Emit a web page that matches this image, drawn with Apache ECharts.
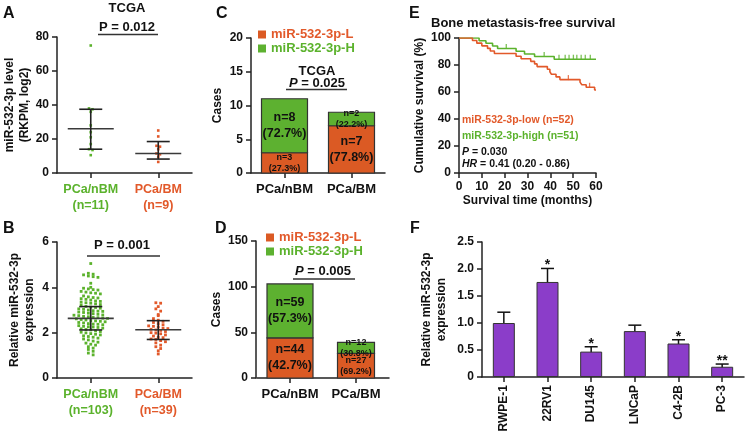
<!DOCTYPE html>
<html><head><meta charset="utf-8">
<script src="https://cdn.jsdelivr.net/npm/echarts@6/dist/echarts.min.js"></script>
<style>html,body{margin:0;padding:0;background:#fff}#c{width:748px;height:439px}</style>
</head><body><div id="c"></div>
<script>
// ---------- DATA ----------
const aTickLabels = ['PCa/nBM\n(n=11)', 'PCa/BM\n(n=9)'];
const aNbm = [75, 38, 37.5, 36, 28, 24, 21, 17, 14, 13.5, 10.5];
const aBm = [25, 21.5, 16, 15.5, 14, 11.5, 11, 9.5, 6.5];
const aMid = [26, 11.5];
const aLow = [14, 8.2];
const aHigh = [37.5, 18.5];

const bTickLabels = ['PCa/nBM\n(n=103)', 'PCa/BM\n(n=39)'];
const bNbm = [
  5.05,
  4.62, 4.58, 4.55, 4.50, 4.47, 4.44,
  4.18,
  4.00, 3.96, 3.93, 3.90, 3.88,
  3.82, 3.79, 3.76, 3.74, 3.71,
  3.62, 3.58, 3.55, 3.53, 3.50, 3.47, 3.44, 3.40,
  3.38, 3.35, 3.32, 3.30, 3.27, 3.24, 3.22,
  3.16, 3.13, 3.11, 3.08, 3.05, 3.03, 3.00,
  2.97, 2.95, 2.94, 2.91, 2.89, 2.86, 2.84, 2.81, 2.78,
  2.77, 2.75, 2.72, 2.70, 2.68, 2.66, 2.64, 2.63, 2.61, 2.58, 2.56,
  2.53, 2.52, 2.50, 2.48, 2.45, 2.43, 2.40, 2.38, 2.37, 2.35,
  2.31, 2.28, 2.26, 2.25, 2.23, 2.20, 2.17, 2.14, 2.12,
  2.08, 2.05, 2.02, 1.99, 1.96, 1.93, 1.90,
  1.86, 1.83, 1.80, 1.76, 1.72, 1.68,
  1.63, 1.58, 1.54, 1.49, 1.45,
  1.38, 1.32, 1.26, 1.18, 1.10, 1.02
];
const bBm = [3.32, 3.30, 3.15, 3.05, 2.95, 2.80, 2.75, 2.62, 2.55, 2.50, 2.45, 2.40, 2.35,
  2.30, 2.28, 2.25, 2.20, 2.18, 2.15, 2.12, 2.10, 2.05, 2.00, 1.98, 1.95, 1.90, 1.85,
  1.80, 1.78, 1.72, 1.70, 1.65, 1.60, 1.55, 1.45, 1.38, 1.30, 1.20, 1.06];
const bMid = [2.63, 2.13];
const bLow = [2.12, 1.70];
const bHigh = [3.15, 2.53];

const cdCats = ['PCa/nBM', 'PCa/BM'];
const cLow = [3, 7];
const cHigh = [8, 2];
const dLow = [44, 27];
const dHigh = [59, 12];

const eHighT = [0, 8.8, 11.8, 14.7, 16.9, 25.0, 28.7, 33.1, 41.7, 60];
const eHighS = [100, 98.0, 96.1, 94.1, 92.2, 90.2, 88.2, 86.3, 84.3, 84.3];
const eHighCensor = [20.7, 37.3, 43.8, 46.5, 48.2, 50.1, 51.6, 53.5, 55.3, 57.5];
const eLowT = [0, 5.9, 7.8, 10.0, 12.5, 13.7, 15.5, 25.0, 27.2, 31.4, 33.1, 34.2, 38.7, 39.8, 40.5, 42.5, 44.2, 53.0, 53.8, 55.7, 59.4, 60];
const eLowS = [100, 98.1, 96.2, 94.2, 92.3, 90.4, 88.5, 86.5, 84.6, 82.7, 80.8, 78.8, 76.9, 75.0, 73.1, 71.2, 69.2, 67.3, 65.4, 63.5, 61.5, 61.5];
const eLowCensor = [47.9, 57.2];

const fCats = ['RWPE-1', '22RV1', 'DU145', 'LNCaP', 'C4-2B', 'PC-3'];
const fMean = [1.0, 1.76, 0.47, 0.85, 0.62, 0.19];
const fErr = [0.2, 0.25, 0.09, 0.11, 0.07, 0.05];
const fStars = ['', '*', '*', '', '*', '**'];

// ---------- STYLE ----------
const FONT = '"Liberation Sans", Arial, Helvetica, sans-serif';
const INK = '#111';
const GREEN = '#5BB22C';
const ORANGE = '#E2592A';
const BAR_GREEN = '#5DB130';
const BAR_ORANGE = '#DB5A24';
const PURPLE = '#8B3DC9';
const AX = '#222';

function swarm(vals, cat, bin) {
  const rows = {};
  vals.forEach(v => { const k = Math.round(v / bin); (rows[k] = rows[k] || []).push(v); });
  const out = [];
  Object.keys(rows).forEach(k => {
    const r = rows[k];
    r.forEach((v, i) => out.push([cat, v, i - (r.length - 1) / 2]));
  });
  return out;
}
function dots(spacing, size) {
  return function (params, api) {
    const p = api.coord([api.value(0), api.value(1)]);
    const cx = p[0] + api.value(2) * spacing;
    return { type: 'rect', shape: { x: cx - size / 2, y: p[1] - size / 2, width: size, height: size },
      style: { fill: api.visual('color') } };
  };
}
function L(x1, y1, x2, y2, st) { return { type: 'line', shape: { x1, y1, x2, y2 }, style: st }; }
function meanBars(halfMean, halfCap) {
  return function (params, api) {
    const c = api.value(0);
    const m = api.coord([c, api.value(1)]);
    const lo = api.coord([c, api.value(2)]);
    const hi = api.coord([c, api.value(3)]);
    const st = { stroke: '#222', lineWidth: 1.6 };
    const sm = { stroke: '#3a3a3a', lineWidth: 1.6 };
    return { type: 'group', children: [
      L(m[0] - halfMean, m[1], m[0] + halfMean, m[1], sm),
      L(lo[0], lo[1], hi[0], hi[1], st),
      L(lo[0] - halfCap, lo[1], lo[0] + halfCap, lo[1], st),
      L(hi[0] - halfCap, hi[1], hi[0] + halfCap, hi[1], st)
    ] };
  };
}
function stackRender(widths) {
  return function (params, api) {
    const c = api.value(0), base = api.value(1), v = api.value(2), tot = api.value(3);
    const p0 = api.coord([c, base]);
    const p1 = api.coord([c, base + v]);
    const w = widths[c];
    const h = p0[1] - p1[1];
    const big = h > 30;
    return { type: 'group', children: [
      { type: 'rect', shape: { x: p0[0] - w / 2, y: p1[1], width: w, height: h },
        style: { fill: api.visual('color'), stroke: '#333', lineWidth: 1.2 } },
      { type: 'text', x: p0[0], y: p1[1] + h / 2, z2: 10,
        style: { text: 'n=' + v + '\n(' + (v / tot * 100).toFixed(1) + '%)', align: 'center', verticalAlign: 'middle',
          fontFamily: FONT, fontWeight: 'bold', fontSize: big ? 12.5 : 9, lineHeight: big ? 16 : 11, fill: '#111' } }
    ] };
  };
}
function fErrRender(params, api) {
  const c = api.value(0), m = api.value(1), e = api.value(2);
  const lo = api.coord([c, m - e]);
  const hi = api.coord([c, m + e]);
  const st = { stroke: '#111', lineWidth: 1.5 };
  const ch = [
    L(lo[0], lo[1], hi[0], hi[1], st),
    L(lo[0] - 6.5, lo[1], lo[0] + 6.5, lo[1], st),
    L(hi[0] - 6.5, hi[1], hi[0] + 6.5, hi[1], st)
  ];
  const s = fStars[params.dataIndex];
  if (s) ch.push({ type: 'text', x: hi[0], y: hi[1] - 3, style: { text: s, align: 'center', verticalAlign: 'middle',
    fontFamily: FONT, fontWeight: 'bold', fontSize: 14, fill: INK } });
  return { type: 'group', children: ch };
}
function survAt(ts, ss, t) { let s = ss[0]; for (let i = 0; i < ts.length; i++) if (ts[i] <= t) s = ss[i]; return s; }

const lblStyle = { fontFamily: FONT, fontWeight: 'bold', fontSize: 12, color: INK };
function yAx(grid, min, max, interval, name, gap, fmt, offset) {
  return { type: 'value', gridIndex: grid, min, max, interval, offset: offset || 0,
    name, nameLocation: 'middle', nameGap: gap, nameRotate: 90,
    nameTextStyle: { fontFamily: FONT, fontWeight: 'bold', fontSize: 12, color: INK, lineHeight: 15 },
    axisLine: { show: true, lineStyle: { color: AX, width: 1.5 } },
    axisTick: { show: true, length: 5, lineStyle: { color: AX, width: 1.5 } },
    axisLabel: Object.assign({ margin: 8, formatter: fmt }, lblStyle),
    splitLine: { show: false } };
}
function xCat(grid, data, colors, extra) {
  return Object.assign({ type: 'category', gridIndex: grid, data,
    axisLine: { show: true, lineStyle: { color: AX, width: 1.5 } },
    axisTick: { show: true, alignWithLabel: true, length: 5, lineStyle: { color: AX, width: 1.5 } },
    axisLabel: Object.assign({}, lblStyle, { interval: 0, margin: 9, lineHeight: 16, fontSize: 12.5,
      color: colors ? function (v, i) { return colors[i]; } : INK }),
    splitLine: { show: false } }, extra || {});
}
function txt(x, y, text, opts) {
  return { type: 'text', x, y, z: 100, style: Object.assign({ text, fill: INK, fontFamily: FONT, fontWeight: 'bold',
    fontSize: 13, align: 'left', verticalAlign: 'middle' }, opts || {}) };
}
function gline(x1, y1, x2, y2) { return { type: 'line', z: 100, shape: { x1, y1, x2, y2 }, style: { stroke: '#333', lineWidth: 1.5 } }; }
function ital(size) { return { i: { fontStyle: 'italic', fontWeight: 'bold', fontSize: size, fontFamily: FONT, fill: INK } }; }

const gridBase = { containLabel: false, outerBoundsMode: 'none' };
const option = {
  animation: false,
  backgroundColor: '#fff',
  textStyle: { fontFamily: FONT },
  grid: [
    Object.assign({ left: 57, top: 37, width: 135, height: 136 }, gridBase),
    Object.assign({ left: 57, top: 242, width: 135, height: 136 }, gridBase),
    Object.assign({ left: 251, top: 38, width: 134, height: 135 }, gridBase),
    Object.assign({ left: 257, top: 241, width: 132, height: 137 }, gridBase),
    Object.assign({ left: 459, top: 38, width: 137, height: 135 }, gridBase),
    Object.assign({ left: 482, top: 242, width: 262, height: 135 }, gridBase)
  ],
  xAxis: [
    xCat(0, aTickLabels, [GREEN, ORANGE]),
    xCat(1, bTickLabels, [GREEN, ORANGE]),
    xCat(2, cdCats, null, { axisLabel: Object.assign({}, lblStyle, { interval: 0, margin: 10, fontSize: 13 }) }),
    xCat(3, cdCats, null, { axisLabel: Object.assign({}, lblStyle, { interval: 0, margin: 10, fontSize: 13 }) }),
    { type: 'value', gridIndex: 4, min: 0, max: 60, interval: 10,
      name: 'Survival time (months)', nameLocation: 'middle', nameGap: 22,
      nameTextStyle: { fontFamily: FONT, fontWeight: 'bold', fontSize: 12, color: INK },
      axisLine: { show: true, onZero: false, lineStyle: { color: AX, width: 1.5 } },
      axisTick: { show: true, length: 5, lineStyle: { color: AX, width: 1.5 } },
      axisLabel: Object.assign({ margin: 8 }, lblStyle),
      splitLine: { show: false } },
    xCat(5, fCats, null, { axisLabel: Object.assign({}, lblStyle, { interval: 0, margin: 8, rotate: 90 }) })
  ],
  yAxis: [
    yAx(0, 0, 80, 20, 'miR-532-3p level\n(RKPM, log2)', 20),
    yAx(1, 0, 6, 2, 'Relative miR-532-3p\nexpression', 20),
    yAx(2, 0, 20, 5, 'Cases', 26),
    yAx(3, 0, 150, 50, 'Cases', 26, null, 1),
    yAx(4, 0, 100, 20, 'Cumulative survival (%)', 26),
    yAx(5, 0, 2.5, 0.5, 'Relative miR-532-3p\nexpression', 33, function (v) { return v === 0 ? '0' : v.toFixed(1); })
  ],
  legend: [
    { left: 253, top: 23, orient: 'vertical', icon: 'rect', itemWidth: 8, itemHeight: 8, itemGap: 1, selectedMode: false,
      textStyle: { fontFamily: FONT, fontWeight: 'bold', fontSize: 13 },
      data: [{ name: 'miR-532-3p-L', textStyle: { color: ORANGE } }, { name: 'miR-532-3p-H', textStyle: { color: GREEN } }] },
    { left: 261, top: 226, orient: 'vertical', icon: 'rect', itemWidth: 8, itemHeight: 8, itemGap: 1, selectedMode: false,
      textStyle: { fontFamily: FONT, fontWeight: 'bold', fontSize: 13 },
      data: [{ name: 'miR-532-3p-L', textStyle: { color: ORANGE } }, { name: 'miR-532-3p-H', textStyle: { color: GREEN } }] }
  ],
  series: [
    // A
    { type: 'custom', name: 'A nBM', xAxisIndex: 0, yAxisIndex: 0, itemStyle: { color: GREEN }, encode: { x: 0, y: 1 },
      data: swarm(aNbm, 0, 2.0), renderItem: dots(3.5, 2.6) },
    { type: 'custom', name: 'A BM', xAxisIndex: 0, yAxisIndex: 0, itemStyle: { color: ORANGE }, encode: { x: 0, y: 1 },
      data: swarm(aBm, 1, 2.0), renderItem: dots(3.5, 2.6) },
    { type: 'custom', name: 'A err', xAxisIndex: 0, yAxisIndex: 0, encode: { x: 0, y: 1 },
      data: aMid.map((m, i) => [i, m, aLow[i], aHigh[i]]), renderItem: meanBars(23, 11.5) },
    // B
    { type: 'custom', name: 'B nBM', xAxisIndex: 1, yAxisIndex: 1, itemStyle: { color: GREEN }, encode: { x: 0, y: 1 },
      data: swarm(bNbm, 0, 0.15), renderItem: dots(4.8, 2.8) },
    { type: 'custom', name: 'B BM', xAxisIndex: 1, yAxisIndex: 1, itemStyle: { color: ORANGE }, encode: { x: 0, y: 1 },
      data: swarm(bBm, 1, 0.15), renderItem: dots(4.8, 2.8) },
    { type: 'custom', name: 'B err', xAxisIndex: 1, yAxisIndex: 1, encode: { x: 0, y: 1 },
      data: bMid.map((m, i) => [i, m, bLow[i], bHigh[i]]), renderItem: meanBars(23, 11.5) },
    // C
    { type: 'custom', name: 'miR-532-3p-L', xAxisIndex: 2, yAxisIndex: 2, itemStyle: { color: BAR_ORANGE }, encode: { x: 0, y: 2 },
      data: cLow.map((v, i) => [i, 0, v, cLow[i] + cHigh[i]]), renderItem: stackRender([46, 46]) },
    { type: 'custom', name: 'miR-532-3p-H', xAxisIndex: 2, yAxisIndex: 2, itemStyle: { color: BAR_GREEN }, encode: { x: 0, y: 2 },
      data: cHigh.map((v, i) => [i, cLow[i], v, cLow[i] + cHigh[i]]), renderItem: stackRender([46, 46]) },
    // D
    { type: 'custom', name: 'miR-532-3p-L', xAxisIndex: 3, yAxisIndex: 3, itemStyle: { color: BAR_ORANGE }, encode: { x: 0, y: 2 },
      data: dLow.map((v, i) => [i, 0, v, dLow[i] + dHigh[i]]), renderItem: stackRender([46, 37]) },
    { type: 'custom', name: 'miR-532-3p-H', xAxisIndex: 3, yAxisIndex: 3, itemStyle: { color: BAR_GREEN }, encode: { x: 0, y: 2 },
      data: dHigh.map((v, i) => [i, dLow[i], v, dLow[i] + dHigh[i]]), renderItem: stackRender([46, 37]) },
    // E
    { type: 'line', name: 'high curve', xAxisIndex: 4, yAxisIndex: 4, step: 'end', symbol: 'none', color: GREEN,
      lineStyle: { color: GREEN, width: 1.6 }, data: eHighT.map((t, i) => [t, eHighS[i]]) },
    { type: 'line', name: 'low curve', xAxisIndex: 4, yAxisIndex: 4, step: 'end', symbol: 'none', color: ORANGE,
      lineStyle: { color: ORANGE, width: 1.6 }, data: eLowT.map((t, i) => [t, eLowS[i]]) },
    { type: 'scatter', name: 'high censor', xAxisIndex: 4, yAxisIndex: 4, symbol: 'rect', symbolSize: [1.3, 5], symbolOffset: [0, -2],
      itemStyle: { color: GREEN }, data: eHighCensor.map(t => [t, survAt(eHighT, eHighS, t)]) },
    { type: 'scatter', name: 'low censor', xAxisIndex: 4, yAxisIndex: 4, symbol: 'rect', symbolSize: [1.3, 5], symbolOffset: [0, -2],
      itemStyle: { color: ORANGE }, data: eLowCensor.map(t => [t, survAt(eLowT, eLowS, t)]) },
    // F
    { type: 'bar', name: 'F bars', xAxisIndex: 5, yAxisIndex: 5, barWidth: 22, data: fMean,
      itemStyle: { color: PURPLE, borderColor: '#333', borderWidth: 1 } },
    { type: 'custom', name: 'F err', xAxisIndex: 5, yAxisIndex: 5, encode: { x: 0, y: 1 },
      data: fMean.map((m, i) => [i, m, fErr[i]]), renderItem: fErrRender }
  ],
  graphic: [
    txt(3, 14, 'A', { fontSize: 16 }),
    txt(3, 229, 'B', { fontSize: 16 }),
    txt(216, 14, 'C', { fontSize: 16 }),
    txt(215, 229, 'D', { fontSize: 16 }),
    txt(409, 14, 'E', { fontSize: 16 }),
    txt(410, 229, 'F', { fontSize: 16 }),
    txt(127, 8.5, 'TCGA', { align: 'center' }),
    txt(127, 27, 'P = 0.012', { align: 'center' }),
    gline(98, 34.5, 158, 34.5),
    txt(122, 245, 'P = 0.001', { align: 'center' }),
    gline(87, 256, 160, 256),
    txt(317, 71, 'TCGA', { align: 'center' }),
    txt(317, 83, '{i|P} = 0.025', { align: 'center', rich: ital(13) }),
    gline(286, 89.5, 347, 89.5),
    txt(323, 271.5, '{i|P} = 0.005', { align: 'center', rich: ital(13) }),
    gline(293, 279, 355, 279),
    txt(431, 23.5, 'Bone metastasis-free survival', { fontSize: 13 }),
    txt(462, 120.3, 'miR-532-3p-low (n=52)', { fontSize: 10.5, fill: ORANGE }),
    txt(462, 136.3, 'miR-532-3p-high (n=51)', { fontSize: 10.5, fill: GREEN }),
    txt(462, 152, '{i|P} = 0.030', { fontSize: 10.5, rich: ital(10.5) }),
    txt(462, 164.5, '{i|HR} = 0.41 (0.20 - 0.86)', { fontSize: 10.5, rich: ital(10.5) })
  ]
};
const chart = echarts.init(document.getElementById('c'), null, { renderer: 'canvas' });
chart.setOption(option);
</script></body></html>
